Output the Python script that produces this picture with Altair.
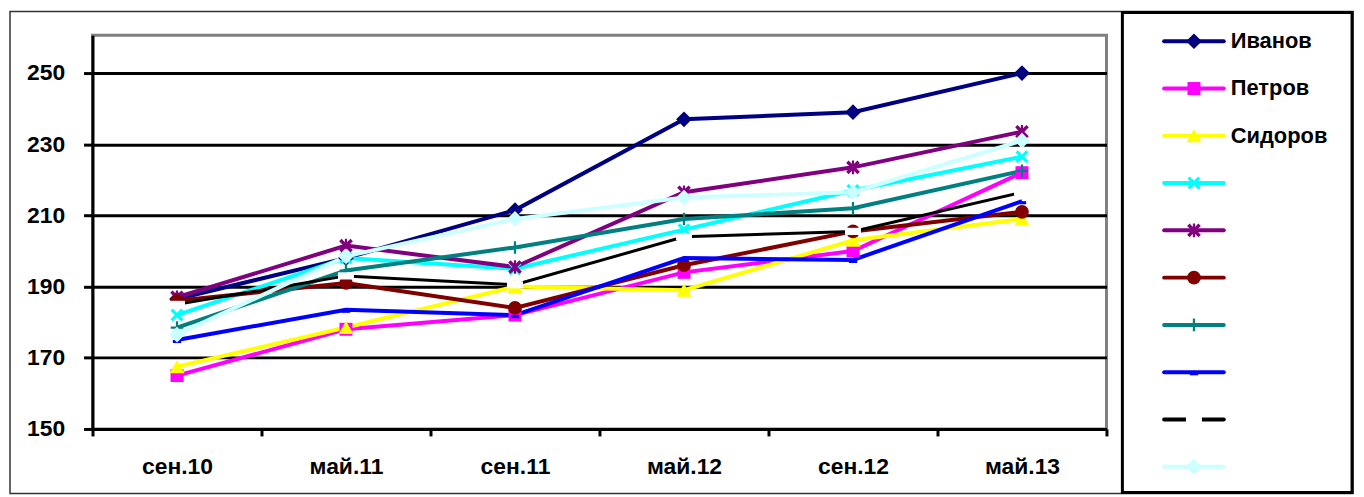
import altair as alt
import pandas as pd

# ---------------- data ----------------
categories = ["сен.10", "май.11", "сен.11", "май.12", "сен.12", "май.13"]

series_keys = ["s1", "s2", "s3", "s4", "s5", "s6", "s7", "s8", "s9", "s10"]
series_labels = ["Иванов", "Петров", "Сидоров", "", "", "", "", "", "", ""]

s1 = [186.5, 198, 211.5, 237, 239, 250]      # Иванов
s2 = [165, 178, 182, 194, 200, 222]          # Петров
s3 = [167.5, 178.5, 190, 189, 203, 209]      # Сидоров
s4 = [182, 198, 195, 206, 217, 226.5]
s5 = [187, 201.5, 195.5, 216.5, 223.5, 233.5]
s6 = [186, 191, 184, 196, 205.5, 211]
s7 = [178.5, 194.5, 201, 209, 212, 222.5]
s8 = [175, 183.5, 182, 198, 197.5, 214]
s9 = [185, 193, 190.5, 204, 205.5, 216.5]
s10 = [176.5, 198.5, 209, 215, 216.5, 231]
values = [s1, s2, s3, s4, s5, s6, s7, s8, s9, s10]

line_colors = ["#000080", "#FF00FF", "#FFFF00", "#00FFFF", "#800080",
               "#800000", "#008080", "#0000FF", "#000000", "#CCFFFF"]
marker_colors = ["#000080", "#FF00FF", "#FFFF00", "#00FFFF", "#800080",
                 "#800000", "#008080", "#0000FF", "#FFFFFF", "#CCFFFF"]

X_PATH = "M-1,-0.65L-0.65,-1L0,-0.35L0.65,-1L1,-0.65L0.35,0L1,0.65L0.65,1L0,0.35L-0.65,1L-1,0.65L-0.35,0Z"
AST_PATH = ("M-1,-0.65L-0.65,-1L0,-0.35L0.65,-1L1,-0.65L0.35,0L1,0.65L0.65,1L0,0.35L-0.65,1L-1,0.65L-0.35,0Z"
            "M-0.16,-1H0.16V1H-0.16Z")
PLUS_PATH = "M-0.18,-1H0.18V-0.18H1V0.18H0.18V1H-0.18V0.18H-1V-0.18H-0.18Z"
SHORTBAR_PATH = "M-1,0H1V0.75H-1Z"
BAR_PATH = "M-1,-0.45H1V0.45H-1Z"

marker_shapes = ["diamond", "square", "triangle-up", X_PATH, AST_PATH,
                 "circle", PLUS_PATH, SHORTBAR_PATH, BAR_PATH, "diamond"]
marker_sizes = [250, 170, 230, 170, 190, 190, 160, 70, 256, 250]
line_widths = [4, 4, 4, 4, 4, 4, 4, 4, 3, 4]

y_ticks = [150, 170, 190, 210, 230, 250]

# ---------------- tables ----------------
rows = []
for i, key in enumerate(series_keys):
    for c, v in zip(categories, values[i]):
        rows.append({"key": key, "order": i, "date": c, "value": v,
                     "lcolor": line_colors[i], "mcolor": marker_colors[i],
                     "shape": marker_shapes[i], "msize": marker_sizes[i],
                     "lw": line_widths[i]})
df = pd.DataFrame(rows)

leg_rows = []
for i, key in enumerate(series_keys):
    for lx in (0.0, 1.0):
        leg_rows.append({"key": key, "idx": i, "lx": lx, "label": series_labels[i],
                         "lcolor": line_colors[i], "mcolor": marker_colors[i],
                         "shape": marker_shapes[i], "msize": marker_sizes[i],
                         "lw": 4})
leg = pd.DataFrame(leg_rows)
leg_pts = leg[leg["lx"] == 0.0].assign(lx=0.5)
leg_txt = leg[leg["lx"] == 1.0]

FONT = "Liberation Sans"
W, H = 1020, 396

# ---------------- main plot ----------------
x_enc = alt.X("date:O", sort=categories,
              scale=alt.Scale(type="band", paddingInner=0, paddingOuter=0),
              axis=alt.Axis(title=None, labelAngle=0, tickBand="extent",
                            labelFont=FONT, labelFontSize=23, labelFontWeight="bold",
                            labelColor="#000", labelPadding=20,
                            tickSize=7, tickWidth=3, tickColor="#000",
                            domainColor="#000", domainWidth=3, grid=False))
y_enc = alt.Y("value:Q",
              scale=alt.Scale(domain=[150, 260.6], nice=False, zero=False),
              axis=alt.Axis(title=None, values=y_ticks,
                            labelFont=FONT, labelFontSize=23, labelFontWeight="bold",
                            labelColor="#000", labelPadding=19,
                            tickSize=9, tickWidth=3, tickColor="#000",
                            domainColor="#000", domainWidth=3,
                            grid=True, gridColor="#000", gridWidth=3, gridOpacity=1))

lines = alt.Chart(df).mark_line(strokeCap="butt").encode(
    x=x_enc, y=y_enc,
    detail="key:N",
    order="order:Q",
    color=alt.Color("lcolor:N", scale=None),
    strokeWidth=alt.StrokeWidth("lw:Q", scale=None),
)
points = alt.Chart(df).mark_point(filled=True, opacity=1, strokeWidth=0).encode(
    x=alt.X("date:O", sort=categories),
    y="value:Q",
    color=alt.Color("mcolor:N", scale=None),
    shape=alt.Shape("shape:N", scale=None),
    size=alt.Size("msize:Q", scale=None),
    order="order:Q",
)
main = alt.layer(lines, points)

# ---------------- legend ----------------
lx = alt.X("lx:Q", scale=alt.Scale(domain=[0, 1], range=[1078, 1138]), axis=None)
ly = alt.Y("idx:Q", scale=alt.Scale(domain=[0, 9], range=[6, 434]), axis=None)
leg_lines = alt.Chart(leg).mark_line(strokeCap="round").encode(
    x=lx, y=ly, detail="key:N",
    color=alt.Color("lcolor:N", scale=None),
    strokeWidth=alt.StrokeWidth("lw:Q", scale=None),
)
leg_points = alt.Chart(leg_pts).mark_point(filled=True, opacity=1, strokeWidth=0).encode(
    x=alt.X("lx:Q"), y=alt.Y("idx:Q"),
    color=alt.Color("mcolor:N", scale=None),
    shape=alt.Shape("shape:N", scale=None),
    size=alt.Size("msize:Q", scale=None),
)
leg_text = alt.Chart(leg_txt).mark_text(
    align="left", baseline="middle", dx=7, font=FONT, fontSize=22,
    fontWeight="bold", color="#000").encode(
    x=alt.X("lx:Q"), y=alt.Y("idx:Q"), text="label:N")
legend = alt.layer(leg_lines, leg_points, leg_text)

# ---------------- frames ----------------
one = pd.DataFrame({"a": [0]})
outer_frame = alt.Chart(one).mark_rect(fillOpacity=0, stroke="#333333", strokeWidth=1.5).encode(
    x=alt.value(-83), x2=alt.value(1268), y=alt.value(-24), y2=alt.value(461))
legend_box = alt.Chart(one).mark_rect(fill="#FFFFFF", stroke="#000000", strokeWidth=3).encode(
    x=alt.value(1036), x2=alt.value(1267), y=alt.value(-23), y2=alt.value(460))

chart = alt.layer(outer_frame, legend_box, main, legend).resolve_scale(
    x="independent", y="independent"
).properties(
    width=W, height=H,
    autosize=alt.AutoSizeParams(type="none"),
    padding={"left": 85, "top": 26, "right": 1356 - 85 - W, "bottom": 489 - 26 - H},
    background="#FFFFFF",
).configure_view(
    stroke="#808080", strokeWidth=3
)

chart.save("out.html", embed_options={"renderer": "svg", "actions": False})
